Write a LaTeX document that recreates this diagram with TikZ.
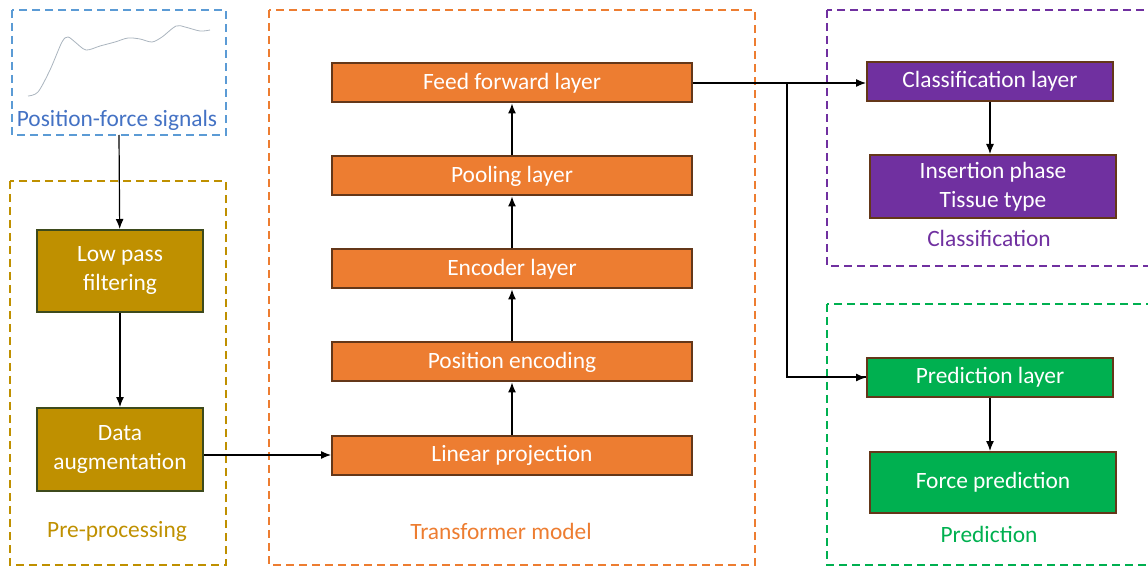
\documentclass[tikz,border=0pt]{standalone}
\usepackage{fontspec}
\setmainfont{Carlito}
\usetikzlibrary{arrows.meta,positioning}
\definecolor{myblue}{RGB}{91,155,213}
\definecolor{mytext}{RGB}{68,114,196}
\definecolor{mygold}{RGB}{191,144,0}
\definecolor{myolive}{RGB}{61,74,28}
\definecolor{myorange}{RGB}{237,125,49}
\definecolor{mybrown}{RGB}{100,55,25}
\definecolor{mypurple}{RGB}{112,48,160}
\definecolor{mygreen}{RGB}{0,176,80}
\definecolor{mycurve}{RGB}{170,180,190}

\begin{document}
\begin{tikzpicture}[
    x=0.5pt, y=-0.5pt,
    node distance=26pt,
    block/.style={rectangle, draw=mybrown, line width=1pt, text=white, align=center, font=\fontsize{11.7pt}{14.5pt}\selectfont, inner sep=0pt},
    layer/.style={block, fill=myorange, minimum width=180pt, minimum height=19.5pt},
    group/.style={dashed, line width=1pt, dash pattern=on 4pt off 2.5pt},
    caption/.style={font=\fontsize{11.7pt}{14pt}\selectfont},
    arrow/.style={-{Latex[length=5pt,width=4pt]}, semithick},
]
    \useasboundingbox (0,0) rectangle (1148,567);

    % Groups
    \draw[group, myblue] (12,10) rectangle (226,135);
    \draw[group, mygold] (10,181) rectangle (226,565);
    \draw[group, myorange] (269,10) rectangle (755,565);
    \draw[group, mypurple] (827,10) rectangle (1152,266);
    \draw[group, mygreen] (827,304) rectangle (1152,565);

    % Input signal
    \draw[mycurve, thin] plot[smooth] coordinates {(28,96) (38,92) (50,70) (62,42) (68,37) (75,42) (86,50) (100,46) (115,42) (128,38) (140,39) (152,42) (162,37) (176,26) (185,27) (200,31) (210,30)};
    \node[caption, text=mytext] (signal) at (117,120) {Position-force signals};
    \coordinate (signalout) at (119,135);

    % Pre-processing
    \node[block, fill=mygold, draw=myolive, minimum width=83pt, minimum height=41pt] (filter) at (120,271) {Low pass\\filtering};
    \node[block, fill=mygold, draw=myolive, minimum width=83pt, minimum height=41.5pt] (augment) at (120,449.5) {Data\\augmentation};
    \node[caption, text=mygold] (pretitle) at (117,531) {Pre-processing};

    % Transformer model
    \node[layer] (linear) at (512,455) {Linear projection};
    \node[layer, above=of linear] (posenc) {Position encoding};
    \node[layer, above=of posenc] (encoder) {Encoder layer};
    \node[layer, above=of encoder] (pooling) {Pooling layer};
    \node[layer, above=of pooling] (feed) {Feed forward layer};
    \node[caption, text=myorange] (transtitle) at (501,531) {Transformer model};

    % Classification
    \node[block, fill=mypurple, minimum width=123pt, minimum height=19.5pt] (classlayer) at (990,81.5) {Classification layer};
    \node[block, fill=mypurple, minimum width=123pt, minimum height=31.5pt] (classout) at (993,186.5) {Insertion phase\\Tissue type};
    \node[caption, text=mypurple] (classtitle) at (989,238) {Classification};

    % Prediction
    \node[block, fill=mygreen, minimum width=123pt, minimum height=19.5pt] (predlayer) at (990,377.5) {Prediction layer};
    \node[block, fill=mygreen, minimum width=123pt, minimum height=30.5pt] (predout) at (993,482.5) {Force prediction};
    \node[caption, text=mygreen] (predtitle) at (989,534) {Prediction};

    \draw[arrow] (signalout) -- (filter);
    \draw[arrow] (filter) -- (augment);
    \draw[arrow] (augment.east |- linear.west) -- (linear.west);
    \draw[arrow] (linear) -- (posenc);
    \draw[arrow] (posenc) -- (encoder);
    \draw[arrow] (encoder) -- (pooling);
    \draw[arrow] (pooling) -- (feed);

    % Heads
    \coordinate (thin) at (760,0 |- feed.east);
    \coordinate (split) at (787,0 |- feed.east);
    \draw[line width=1pt] (feed.east) -- (thin);
    \draw[arrow] (thin) -- (classlayer.west |- feed.east);
    \draw[line width=1pt] (split) |- (predlayer.west);
    \draw[arrow] (split |- predlayer.west) -- (predlayer.west);
    \draw[arrow] (classlayer) -- (classlayer |- classout.north);
    \draw[arrow] (predlayer) -- (predlayer |- predout.north);
\end{tikzpicture}
\end{document}
